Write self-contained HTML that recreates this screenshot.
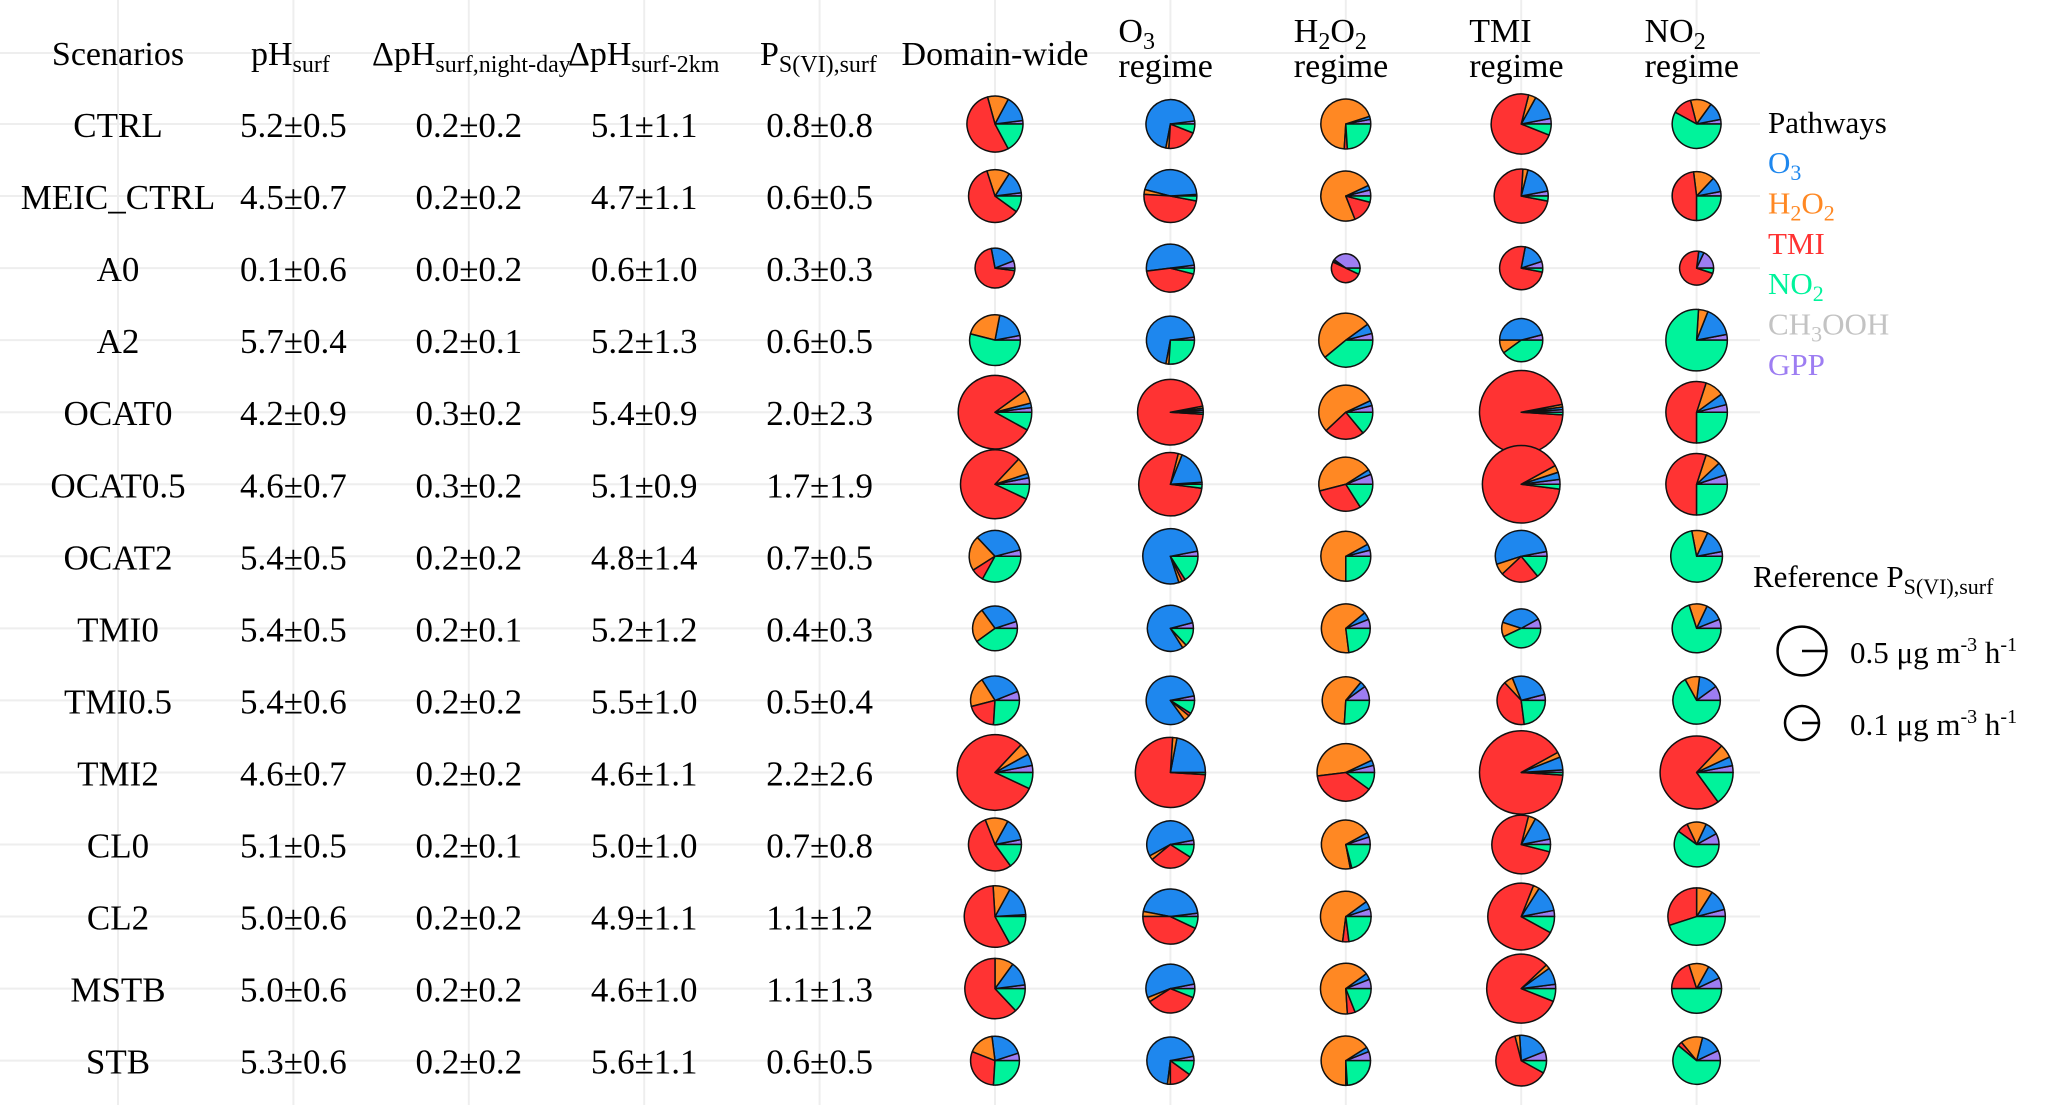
<!DOCTYPE html>
<html><head><meta charset="utf-8">
<style>
html,body{margin:0;padding:0;background:#fff;}
svg, svg text{font-family:"Liberation Serif","Times New Roman",serif;}
</style></head>
<body>
<svg id="chart" width="2067" height="1105" viewBox="0 0 2067 1105" xmlns="http://www.w3.org/2000/svg" font-family="Liberation Serif, serif">
<g id="grid"></g>
<g id="headers"></g>
<g id="cells"></g>
<g id="pies"></g>
<g id="legend"></g>
</svg>
<script>
const scenarios = ["CTRL","MEIC_CTRL","A0","A2","OCAT0","OCAT0.5","OCAT2","TMI0","TMI0.5","TMI2","CL0","CL2","MSTB","STB"];
const phSurf = ["5.2±0.5","4.5±0.7","0.1±0.6","5.7±0.4","4.2±0.9","4.6±0.7","5.4±0.5","5.4±0.5","5.4±0.6","4.6±0.7","5.1±0.5","5.0±0.6","5.0±0.6","5.3±0.6"];
const dphNightDay = ["0.2±0.2","0.2±0.2","0.0±0.2","0.2±0.1","0.3±0.2","0.3±0.2","0.2±0.2","0.2±0.1","0.2±0.2","0.2±0.2","0.2±0.1","0.2±0.2","0.2±0.2","0.2±0.2"];
const dph2km = ["5.1±1.1","4.7±1.1","0.6±1.0","5.2±1.3","5.4±0.9","5.1±0.9","4.8±1.4","5.2±1.2","5.5±1.0","4.6±1.1","5.0±1.0","4.9±1.1","4.6±1.0","5.6±1.1"];
const psvi = ["0.8±0.8","0.6±0.5","0.3±0.3","0.6±0.5","2.0±2.3","1.7±1.9","0.7±0.5","0.4±0.3","0.5±0.4","2.2±2.6","0.7±0.8","1.1±1.2","1.1±1.3","0.6±0.5"];
const regimes = ["domain","o3","h2o2","tmi","no2"];
// slice order (counter-clockwise from east): GPP, O3, H2O2, TMI, NO2, CH3OOH
const sliceOrder = ["GPP","O3","H2O2","TMI","NO2","CH3OOH"];
const totalDomain = [0.80,0.66,0.22,0.57,1.84,1.53,0.61,0.36,0.50,2.00,0.66,1.08,1.02,0.50];
const totalO3     = [0.50,0.66,0.47,0.47,1.32,1.18,0.76,0.40,0.48,1.60,0.44,0.76,0.50,0.44];
const totalH2O2   = [0.54,0.54,0.03,0.71,0.71,0.71,0.54,0.50,0.44,0.87,0.50,0.57,0.57,0.52];
const totalTMI    = [1.00,0.71,0.31,0.31,2.61,2.14,0.61,0.20,0.48,2.61,0.93,1.38,1.53,0.57];
const totalNO2    = [0.50,0.50,0.10,1.08,1.08,1.08,0.61,0.50,0.45,1.80,0.36,0.87,0.54,0.45];
const shareDomain = [[2,15,12,53,17,0],[2,14,14,60,10,0],[6,22,0,70,2,0],[3,19,24,0,54,0],[2,2,6,82,8,0],[3,2,8,80,7,0],[4,33,22,8,33,0],[5,30,25,0,40,0],[6,28,20,20,26,0],[3,5,5,80,7,0],[3,14,14,54,15,0],[1,16,9,57,17,0],[2,13,10,62,13,0],[5,22,17,30,26,0]];
const shareO3 = [[2,70,2,20,6,0],[1,45,3,48,3,0],[2,50,0,44,4,0],[2,70,2,0,26,0],[1,1,1,96,1,0],[1,18,2,77,2,0],[3,77,2,2,16,0],[4,80,3,0,13,0],[3,82,4,2,9,0],[0,22,2,75,1,0],[3,55,3,30,9,0],[2,45,3,43,7,0],[3,53,3,35,6,0],[3,70,2,15,10,0]];
const shareH2O2 = [[3,2,69,2,24,0],[4,3,74,15,4,0],[40,2,1,50,7,0],[4,6,51,0,39,0],[4,3,55,24,14,0],[6,3,45,30,16,0],[4,4,67,0,25,0],[6,5,66,0,23,0],[10,4,60,0,26,0],[4,3,45,38,10,0],[5,3,70,1,21,0],[5,5,63,4,23,0],[6,4,66,5,19,0],[6,3,66,1,24,0]];
const shareTMI = [[3,14,4,73,6,0],[3,18,3,73,3,0],[5,17,0,75,3,0],[4,46,10,0,40,0],[1,1,1,96,1,0],[2,3,3,90,2,0],[3,52,7,24,14,0],[8,37,12,0,43,0],[4,27,6,40,23,0],[1,5,2,91,1,0],[3,14,4,75,4,0],[3,13,3,73,8,0],[2,8,2,82,6,0],[6,20,3,63,8,0]];
const shareNO2 = [[3,12,14,13,58,0],[3,10,14,48,25,0],[18,5,0,72,5,0],[3,16,5,0,76,0],[4,6,10,55,25,0],[5,7,8,55,25,0],[3,15,10,0,72,0],[6,12,12,0,70,0],[10,13,10,0,67,0],[3,4,6,72,15,0],[8,10,14,8,60,0],[4,12,9,30,45,0],[7,10,13,20,50,0],[7,14,15,3,61,0]];
const legendRef = [0.5, 0.1];

const totals = [totalDomain,totalO3,totalH2O2,totalTMI,totalNO2];
const shares = [shareDomain,shareO3,shareH2O2,shareTMI,shareNO2];
const colors = {GPP:"#9d7df2",O3:"#1e87ee",H2O2:"#ff8823",TMI:"#ff3333",NO2:"#00f39b",CH3OOH:"#c3c3c3"};
const NS = "http://www.w3.org/2000/svg";
const FONT = "Liberation Serif, Times New Roman, serif";
const colX = i => 118 + i*175.4;
const rowY = i => 124 + i*72.05;
const rScale = p => 11 + 19*Math.sqrt(p);

function mk(tag, attrs, parent){
  const e = document.createElementNS(NS, tag);
  for (const k in attrs) e.setAttribute(k, attrs[k]);
  if (tag==="text") e.setAttribute("font-family", FONT);
  parent.appendChild(e); return e;
}
function sub(textEl, main, s, subSize){
  const t1 = document.createElementNS(NS,"tspan"); t1.textContent = main; textEl.appendChild(t1);
  const t2 = document.createElementNS(NS,"tspan"); t2.setAttribute("font-size", subSize); t2.setAttribute("dy", "7"); t2.textContent = s; textEl.appendChild(t2);
  return t2;
}

const grid = document.getElementById("grid");
for (let i=0;i<10;i++){
  const l = mk("line",{x1:colX(i),x2:colX(i),y1:0,y2:1105,stroke:"#eeeeee","stroke-width":2},grid);
  
  
}
for (let j=-1;j<scenarios.length;j++){
  const y = j<0 ? 53 : rowY(j);
  const l = mk("line",{x1:0,x2:1760,y1:y,y2:y,stroke:"#eeeeee","stroke-width":2},grid);
  
  
}

const H = document.getElementById("headers");
function htext(x, y, anchor){ return mk("text",{x:x,y:y,"font-size":34,"text-anchor":anchor,fill:"#000"},H); }
let t = htext(colX(0),65,"middle"); t.textContent="Scenarios";
 
t = htext(colX(1)-3,65,"middle"); sub(t,"pH","surf",24);
 
t = htext(372,65,"start"); sub(t,"ΔpH","surf,night-day",24);
 
t = htext(568,65,"start"); sub(t,"ΔpH","surf-2km",24);
 
t = htext(760,65,"start"); sub(t,"P","S(VI),surf",24);
 
t = htext(colX(5),65,"middle"); t.textContent="Domain-wide";
 
const twoLine = [["O","3"],["H","2","O","2"],["TMI"],["NO","2"]];
const twoNames = ["header-o3-regime","header-h2o2-regime","header-tmi-regime","header-no2-regime"];
for (let k=0;k<4;k++){
  const x = colX(6+k) - 52;
  const a = htext(x,42,"start");
  twoLine[k].forEach((p,pi)=>{
    const ts = document.createElementNS(NS,"tspan");
    ts.textContent = p;
    if (pi%2===1){ ts.setAttribute("font-size",24); ts.setAttribute("dy","7"); }
    else if (pi>0){ ts.setAttribute("dy","-7"); }
    a.appendChild(ts);
  });
   
  const b = htext(x,77,"start"); b.textContent="regime";
   
}

const C = document.getElementById("cells");
const cols = [scenarios, phSurf, dphNightDay, dph2km, psvi];
const cellNames = ["scenario-label","ph-surf-value","dph-night-day-value","dph-2km-value","ps-surf-value"];
cols.forEach((arr,ci)=>{
  arr.forEach((v,ri)=>{
    const e = mk("text",{x:colX(ci),y:rowY(ri)+13,"font-size":35,"text-anchor":"middle",fill:"#000"},C);
    e.textContent = v;
    
    
  });
});

const P = document.getElementById("pies");
function drawPie(parent, cx, cy, r, sh){
  const tot = sh.reduce((a,b)=>a+b,0);
  let a0 = 0;
  sh.forEach((v,k)=>{
    if (v<=0) return;
    const a1 = a0 + v/tot*2*Math.PI;
    const x0 = cx + r*Math.cos(a0), y0 = cy - r*Math.sin(a0);
    const x1 = cx + r*Math.cos(a1), y1 = cy - r*Math.sin(a1);
    const large = (a1-a0) > Math.PI ? 1 : 0;
    const p = mk("path",{d:`M${cx},${cy} L${x0.toFixed(2)},${y0.toFixed(2)} A${r},${r} 0 ${large} 0 ${x1.toFixed(2)},${y1.toFixed(2)} Z`,fill:colors[sliceOrder[k]],stroke:"#111","stroke-width":1.5,"stroke-linejoin":"round"},parent);
    
    
    a0 = a1;
  });
}
regimes.forEach((rg,gi)=>{
  scenarios.forEach((s,ri)=>{
    const g = mk("g",{},P);
    
    
    drawPie(g, colX(5+gi), rowY(ri), rScale(totals[gi][ri]), shares[gi][ri]);
  });
});

const L = document.getElementById("legend");
let lt = mk("text",{x:1768,y:133,"font-size":31,fill:"#000"},L); lt.textContent="Pathways";
 
const legItems = [["O3",[["O",""],["3","s"]]],["H2O2",[["H",""],["2","s"],["O",""],["2","s"]]],["TMI",[["TMI",""]]],["NO2",[["NO",""],["2","s"]]],["CH3OOH",[["CH",""],["3","s"],["OOH",""]]],["GPP",[["GPP",""]]]];
legItems.forEach((it,i)=>{
  const e = mk("text",{x:1768,y:173+i*40.4,"font-size":31,fill:colors[it[0]]},L);
  let prevSub=false;
  it[1].forEach(([txt,kind])=>{
    const ts = document.createElementNS(NS,"tspan"); ts.textContent = txt;
    if (kind==="s"){ ts.setAttribute("font-size",22); ts.setAttribute("dy","7"); prevSub=true; }
    else if (prevSub){ ts.setAttribute("dy","-7"); prevSub=false; }
    e.appendChild(ts);
  });
  
  
});
lt = mk("text",{x:1753,y:587,"font-size":31,fill:"#000"},L); sub(lt,"Reference P","S(VI),surf",22);
 
const refY = [651, 723];
legendRef.forEach((v,i)=>{
  const r = rScale(v), cx = 1802, cy = refY[i];
  const c = mk("circle",{cx:cx,cy:cy,r:r,fill:"none",stroke:"#000","stroke-width":2.5},L);
  
  
  const ln = mk("line",{x1:cx,y1:cy,x2:cx+r,y2:cy,stroke:"#000","stroke-width":2.5},L);
  
  
  const e = mk("text",{x:1850,y:cy+12,"font-size":31,fill:"#000"},L);
  e.innerHTML = v.toFixed(1)+' μg m<tspan font-size="20" dy="-12">-3</tspan><tspan dy="12"> h</tspan><tspan font-size="20" dy="-12">-1</tspan>';
  
  
});
</script>
</body></html>
